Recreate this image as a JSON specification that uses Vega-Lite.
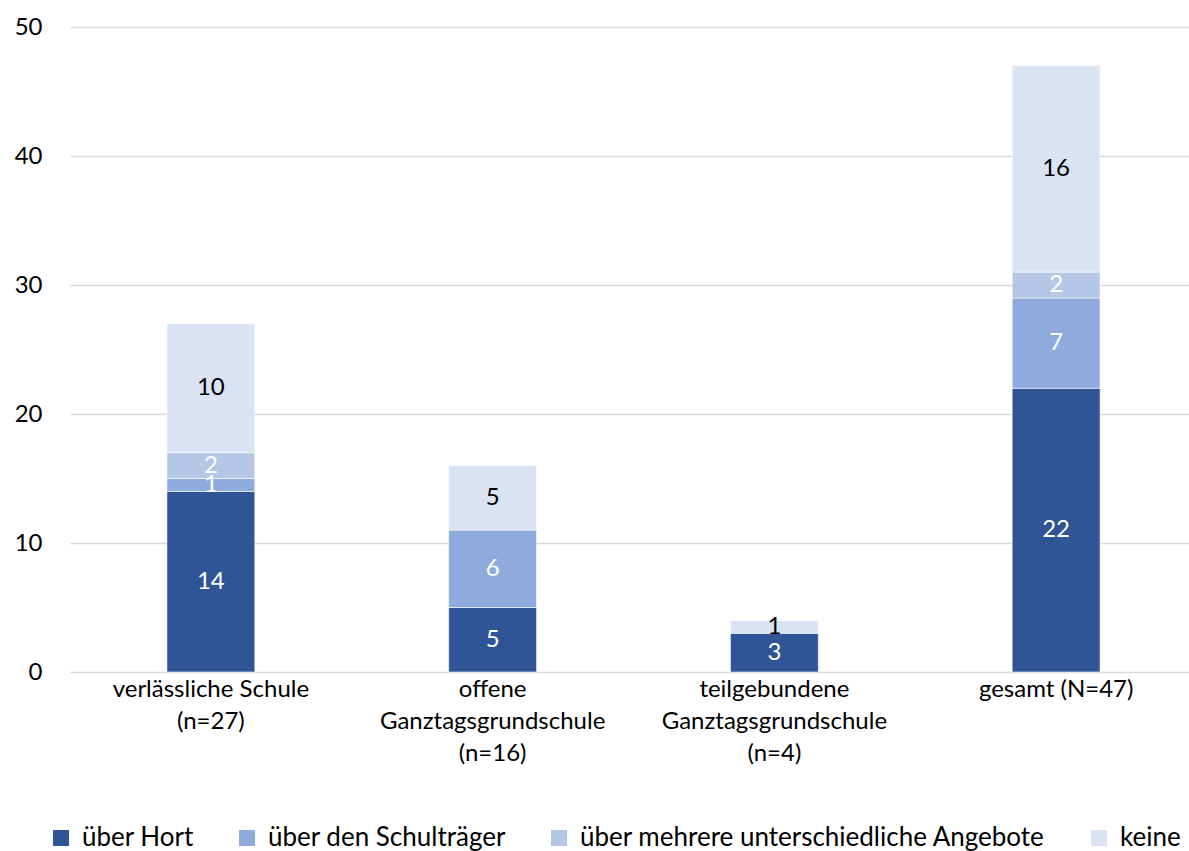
{
  "$schema": "https://vega.github.io/schema/vega-lite/v6.json",
  "autosize": {"type": "none"},
  "width": 1119,
  "height": 645,
  "padding": {"left": 70, "top": 27, "right": 0, "bottom": 179},
  "background": "white",
  "config": {
    "font": "Lato",
    "view": {"stroke": null},
    "axis": {"labelFont": "Lato", "labelColor": "#000000"},
    "legend": {"labelFont": "Lato", "labelColor": "#000000"}
  },
  "data": {
    "values": [
      {"schule": "verlässliche Schule|(n=27)", "kategorie": "über Hort", "k": 1, "anzahl": 14},
      {"schule": "verlässliche Schule|(n=27)", "kategorie": "über den Schulträger", "k": 2, "anzahl": 1},
      {"schule": "verlässliche Schule|(n=27)", "kategorie": "über mehrere unterschiedliche Angebote", "k": 3, "anzahl": 2},
      {"schule": "verlässliche Schule|(n=27)", "kategorie": "keine", "k": 4, "anzahl": 10},
      {"schule": "offene|Ganztagsgrundschule|(n=16)", "kategorie": "über Hort", "k": 1, "anzahl": 5},
      {"schule": "offene|Ganztagsgrundschule|(n=16)", "kategorie": "über den Schulträger", "k": 2, "anzahl": 6},
      {"schule": "offene|Ganztagsgrundschule|(n=16)", "kategorie": "über mehrere unterschiedliche Angebote", "k": 3, "anzahl": 0},
      {"schule": "offene|Ganztagsgrundschule|(n=16)", "kategorie": "keine", "k": 4, "anzahl": 5},
      {"schule": "teilgebundene|Ganztagsgrundschule|(n=4)", "kategorie": "über Hort", "k": 1, "anzahl": 3},
      {"schule": "teilgebundene|Ganztagsgrundschule|(n=4)", "kategorie": "über den Schulträger", "k": 2, "anzahl": 0},
      {"schule": "teilgebundene|Ganztagsgrundschule|(n=4)", "kategorie": "über mehrere unterschiedliche Angebote", "k": 3, "anzahl": 0},
      {"schule": "teilgebundene|Ganztagsgrundschule|(n=4)", "kategorie": "keine", "k": 4, "anzahl": 1},
      {"schule": "gesamt (N=47)", "kategorie": "über Hort", "k": 1, "anzahl": 22},
      {"schule": "gesamt (N=47)", "kategorie": "über den Schulträger", "k": 2, "anzahl": 7},
      {"schule": "gesamt (N=47)", "kategorie": "über mehrere unterschiedliche Angebote", "k": 3, "anzahl": 2},
      {"schule": "gesamt (N=47)", "kategorie": "keine", "k": 4, "anzahl": 16}
    ]
  },
  "transform": [
    {"filter": "datum.anzahl > 0"},
    {"stack": "anzahl", "groupby": ["schule"], "sort": [{"field": "k", "order": "ascending"}], "as": ["v0", "v1"]},
    {"calculate": "(datum.v0 + datum.v1) / 2", "as": "mitte"}
  ],
  "encoding": {
    "x": {
      "field": "schule",
      "type": "nominal",
      "sort": null,
      "title": null,
      "scale": {"range": [0, 1127], "paddingInner": 0.688, "paddingOuter": 0.344},
      "axis": {
        "labelExpr": "split(datum.label, '|')",
        "labelAngle": 0,
        "labelFontSize": 24,
        "labelLineHeight": 32,
        "labelPadding": 5,
        "domain": false,
        "ticks": false,
        "labelLimit": 400
      }
    }
  },
  "layer": [
    {
      "mark": {"type": "bar", "stroke": "white", "strokeWidth": 0.6},
      "encoding": {
        "y": {
          "field": "v0",
          "type": "quantitative",
          "scale": {"domain": [0, 50]},
          "title": null,
          "axis": {
            "values": [0, 10, 20, 30, 40, 50],
            "labelFontSize": 24,
            "labelPadding": 28,
            "domain": false,
            "ticks": false,
            "gridColor": "#d9d9d9",
            "gridWidth": 1.3
          }
        },
        "y2": {"field": "v1"},
        "color": {
          "field": "kategorie",
          "type": "nominal",
          "title": null,
          "sort": ["über Hort", "über den Schulträger", "über mehrere unterschiedliche Angebote", "keine"],
          "scale": {
            "domain": ["über Hort", "über den Schulträger", "über mehrere unterschiedliche Angebote", "keine"],
            "range": ["#2F5597", "#8FAADC", "#B4C7E7", "#DAE3F3"]
          },
          "legend": {
            "orient": "none",
            "direction": "horizontal",
            "legendX": -22,
            "legendY": 798,
            "symbolType": "square",
            "symbolSize": 256,
            "symbolStrokeWidth": 0,
            "labelFontSize": 26,
            "labelOffset": 8,
            "columnPadding": 40,
            "labelLimit": 600
          }
        }
      }
    },
    {
      "mark": {"type": "text", "fontSize": 24, "baseline": "middle", "align": "center"},
      "encoding": {
        "y": {"field": "mitte", "type": "quantitative"},
        "text": {"field": "anzahl", "type": "quantitative"},
        "color": {
          "condition": {"test": "datum.k == 4", "value": "#000000"},
          "value": "#ffffff"
        }
      }
    }
  ]
}
